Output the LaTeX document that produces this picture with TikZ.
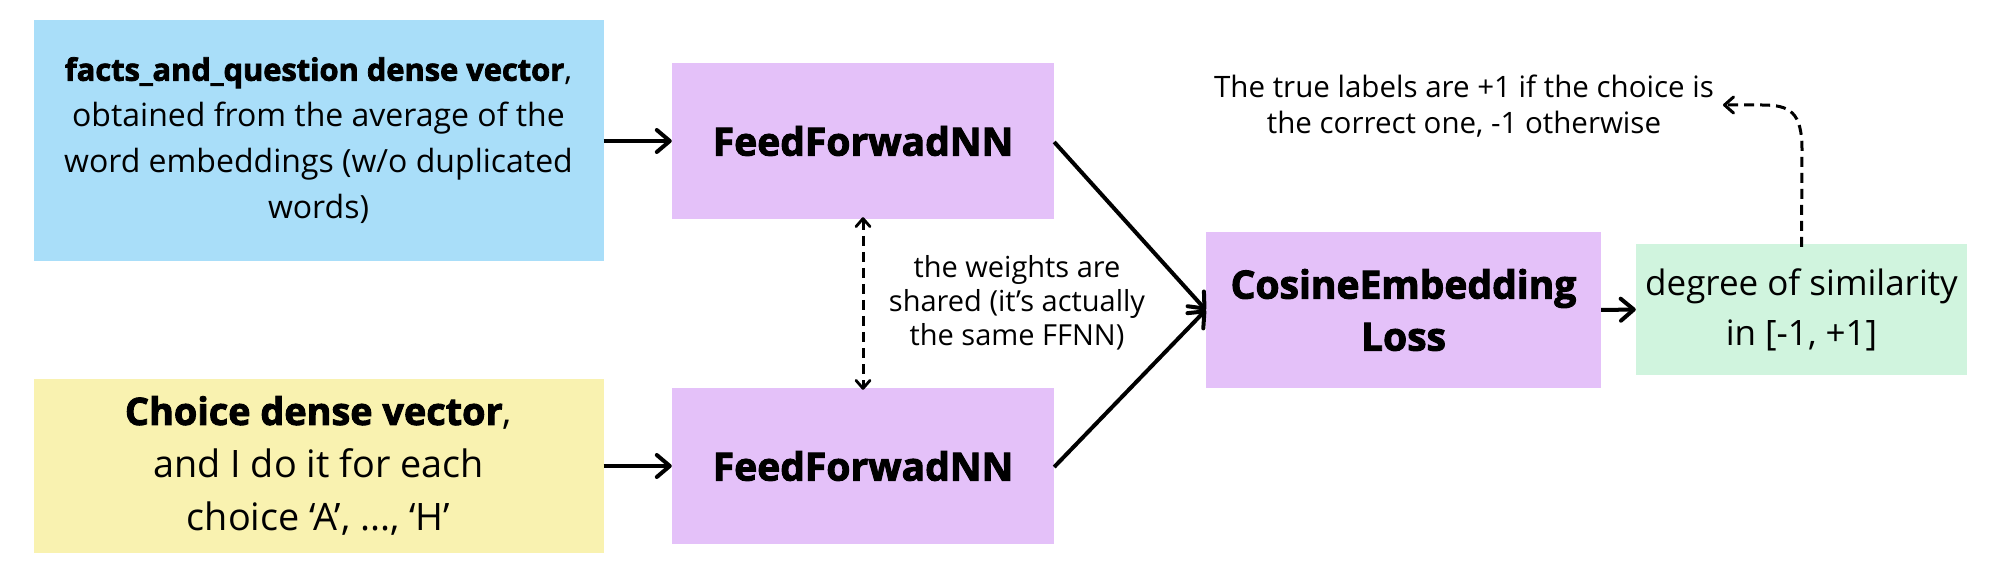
\documentclass[tikz,border=0pt]{standalone}
\usepackage{fontspec}
\setmainfont{Open Sans}
\newfontfamily\heavyfam[BoldFeatures={FakeBold=2.5}]{Open Sans}
\newcommand{\heavy}{\heavyfam\bfseries}
\usetikzlibrary{arrows.meta}
\definecolor{cblue}{HTML}{A9DEF9}
\definecolor{cyellow}{HTML}{F9F2B0}
\definecolor{cpurple}{HTML}{E4C1F9}
\definecolor{cgreen}{HTML}{D0F4DE}
\tikzset{
  boxnode/.style={rectangle, inner sep=0pt, align=center, text=black},
  flow/.style={line width=4pt, -{Straight Barb[length=13pt,width=22pt,line width=4pt,round]}},
  dashflow/.style={line width=3pt, dash pattern=on 10pt off 6pt},
  note/.style={align=center, inner sep=0pt, font=\fontsize{29}{34}\selectfont},
}
\begin{document}
\begin{tikzpicture}[x=1pt,y=-1pt]
\useasboundingbox (0,0) rectangle (2000,577);
% boxes
\node[boxnode, fill=cblue, minimum width=570pt, minimum height=241pt,
  font=\fontsize{32}{46}\selectfont] (facts) at (318.5,140.5)
  {{\fontsize{30.8}{46}\selectfont\heavy facts\_and\_question dense vector},\\obtained from the average of the\\word embeddings (w/o duplicated\\words)};
\node[boxnode, fill=cyellow, minimum width=570pt, minimum height=174pt,
  font=\fontsize{37.8}{53}\selectfont] (choice) at (318.5,466)
  {{\heavy Choice dense vector},\\and I do it for each\\choice ‘A’, ..., ‘H’};
\node[boxnode, fill=cpurple, minimum width=382pt, minimum height=156pt,
  font=\fontsize{39}{50}\selectfont\heavy] (ff1) at (863,141) {FeedForwadNN};
\node[boxnode, fill=cpurple, minimum width=382pt, minimum height=156pt,
  font=\fontsize{39}{50}\selectfont\heavy] (ff2) at (863,466) {FeedForwadNN};
\node[boxnode, fill=cpurple, minimum width=395pt, minimum height=156pt,
  font=\fontsize{39}{52}\selectfont\heavy] (cos) at (1403.5,310) {CosineEmbedding\\Loss};
\node[boxnode, fill=cgreen, minimum width=331pt, minimum height=131pt,
  font=\fontsize{35}{50}\selectfont] (sim) at (1801.5,309.5) {degree of similarity\\in [-1, +1]};
% notes
\node[note] (shared) at (1017,303) {the weights are\\shared (it’s actually\\the same FFNN)};
\node[note, font=\fontsize{29.5}{36}\selectfont] (truelab) at (1464,106) {The true labels are +1 if the choice is\\the correct one, -1 otherwise};
% connectors
\draw[flow] (facts.east |- ff1.west) -- (ff1.west);
\draw[flow] (choice.east |- ff2.west) -- (ff2.west);
\draw[flow] ([yshift=-1pt]ff1.east) -- (cos.west);
\draw[flow] ([yshift=-1pt]ff2.east) -- (cos.west);
\draw[flow] (cos.east) -- (sim.west);
\draw[dashflow, {Straight Barb[length=8pt,width=14pt,line width=2.8pt,round]}-{Straight Barb[length=8pt,width=14pt,line width=2.8pt,round]}]
  ([yshift=2pt]ff1.south) -- ([yshift=-2pt]ff2.north);
\coordinate (tip) at (1723,105);
\draw[dashflow, -{Straight Barb[length=9pt,width=16pt,line width=3pt,round]}]
  ([yshift=-3pt]sim.north) -- (1802,150) .. controls (1802,112) and (1790,105) .. (1762,105) -- (tip);
\end{tikzpicture}
\end{document}
